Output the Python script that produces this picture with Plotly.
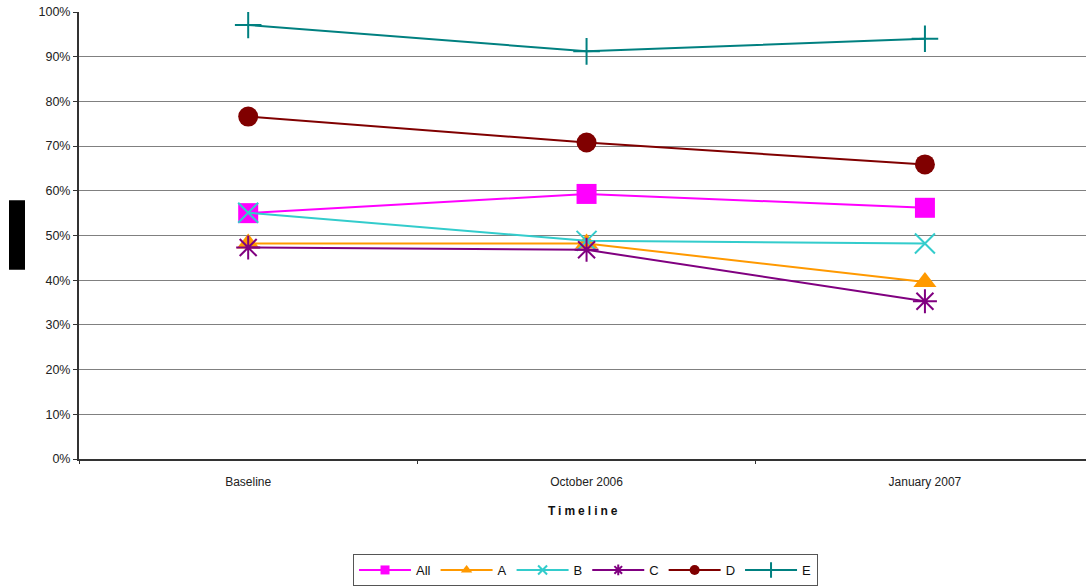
import plotly.graph_objects as go

# Survey timeline and share of respondents per group
timeline = ["Baseline", "October 2006", "January 2007"]
series_names = ["All", "A", "B", "C", "D", "E"]
all_vals = [0.550, 0.593, 0.562]
a_vals = [0.482, 0.482, 0.396]
b_vals = [0.551, 0.488, 0.482]
c_vals = [0.473, 0.468, 0.353]
d_vals = [0.766, 0.708, 0.659]
e_vals = [0.971, 0.912, 0.940]
y_ticks = [0.0, 0.1, 0.2, 0.3, 0.4, 0.5, 0.6, 0.7, 0.8, 0.9, 1.0]

series_values = [all_vals, a_vals, b_vals, c_vals, d_vals, e_vals]
colors = ["#FF00FF", "#FF9900", "#33CCCC", "#800080", "#800000", "#008080"]
symbols = ["square", "triangle-up", "x-thin", "asterisk", "circle", "cross-thin"]
sizes = [20, 20, 20, 20, 20, 19]
legend_sizes = [9, 10, 9, 9, 10, 11]

fig = go.Figure()

for name, vals, col, sym, sz in zip(series_names, series_values, colors, symbols, sizes):
    thin = sym in ("x-thin", "asterisk", "cross-thin")
    fig.add_trace(go.Scatter(
        x=timeline, y=vals, name=name, mode="lines+markers",
        line=dict(color=col, width=2),
        marker=dict(symbol=sym, size=sz, color=col,
                    line=dict(color=col, width=2 if thin else 0)),
        showlegend=False,
    ))

# Legend entries with smaller symbols
for name, col, sym, sz in zip(series_names, colors, symbols, legend_sizes):
    thin = sym in ("x-thin", "asterisk", "cross-thin")
    fig.add_trace(go.Scatter(
        x=[None], y=[None], name=name, mode="lines+markers",
        line=dict(color=col, width=2),
        marker=dict(symbol=sym, size=sz, color=col,
                    line=dict(color=col, width=2 if thin else 0)),
        showlegend=True,
    ))

fig.update_layout(
    width=1086, height=586,
    margin=dict(l=79, r=0, t=12, b=125),
    paper_bgcolor="white", plot_bgcolor="white",
    font=dict(family="Liberation Sans, Arial, sans-serif", size=12, color="#222222"),
    showlegend=True,
    legend=dict(
        orientation="h", x=0.503, xanchor="center", y=-0.213, yanchor="top",
        bordercolor="#555555", borderwidth=1, bgcolor="white",
        itemwidth=52, font=dict(size=13, color="#111111"),
        tracegroupgap=0,
    ),
    xaxis=dict(
        type="category", range=[-0.5, 2.476],
        showgrid=False, zeroline=False,
        showline=True, linecolor="#333333", linewidth=2,
        ticks="outside", ticklen=3, tickcolor="#333333", tickson="boundaries",
        ticklabelstandoff=11,
        tickfont=dict(size=12, color="#222222"),
    ),
    yaxis=dict(
        range=[0, 1], tickvals=y_ticks, tickformat=".0%",
        showgrid=True, gridcolor="#808080", gridwidth=1,
        zeroline=False,
        showline=True, linecolor="#333333", linewidth=2,
        ticks="outside", ticklen=4, tickcolor="#333333",
        tickfont=dict(size=12.5, color="#222222"),
    ),
)

# Axis title
fig.add_annotation(
    text='<b><span style="letter-spacing:3px">Timeline</span></b>',
    xref="paper", yref="paper", x=(584 - 79) / 1007, y=(461 - 513) / 449,
    yanchor="middle", xanchor="center",
    showarrow=False, font=dict(size=12, color="#111111"),
)

# Masked y-axis title block
fig.add_shape(
    type="rect", xref="paper", yref="paper",
    x0=(9 - 79) / 1007, x1=(25 - 79) / 1007,
    y0=(461 - 271) / 449, y1=(461 - 201) / 449,
    fillcolor="black", line=dict(width=0),
)

fig.write_html("out.html")
